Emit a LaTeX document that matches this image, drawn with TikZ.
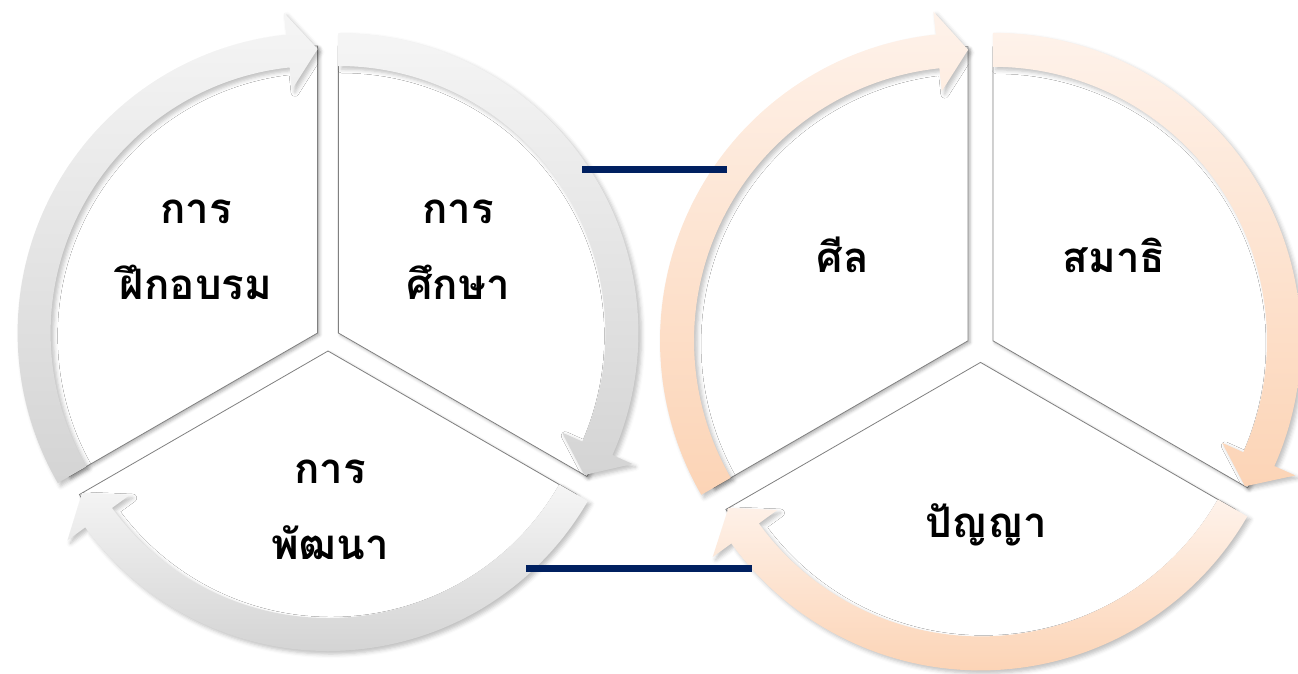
\documentclass[tikz,border=0pt]{standalone}
\usepackage{fontspec}
\newfontfamily\thaifont[Script=Thai]{Loma}
\usetikzlibrary{calc}
\usetikzlibrary{shadows.blur}
\definecolor{navyline}{RGB}{0,32,96}
\definecolor{greytop}{RGB}{245,245,245}
\definecolor{greybot}{RGB}{212,212,212}
\definecolor{peachtop}{RGB}{254,242,234}
\definecolor{peachbot}{RGB}{252,212,182}
\colorlet{edgegrey}{black!50}

% one arrow of a ring: centre, (tail angle, tip angle), style
\def\ringarrow (#1) (#2,#3) [#4]{%
    \path [#4] ($(#1)+(#2:\outr)$)
        arc [start angle=#2, end angle=#3+\headang, radius=\outr]
        -- ($(#1)+({#3+\headang}:\headout)$)
        -- ($(#1)+(#3:\midr)$)
        -- ($(#1)+({#3+\headang}:\headin)$)
        -- ($(#1)+({#3+\headang}:\innr)$)
        arc [start angle=#3+\headang, end angle=#2, radius=\innr]
        -- cycle}

% one third of a disc: apex, start angle, style
\def\pieslice (#1) (#2) [#3]{%
    \path [#3] (#1) -- ++(#2:\sectr)
        arc [start angle=#2, end angle=#2-120, radius=\sectr] -- cycle}

\begin{document}
\begin{tikzpicture}[
    x=1pt, y=1pt,
    every node/.style={font=\thaifont\bfseries\fontsize{42}{76}\selectfont, align=center},
    sector/.style={fill=white, draw=edgegrey, line width=0.8pt,
        blur shadow={shadow xshift=2pt, shadow yshift=-2pt,
            shadow blur radius=3pt, shadow opacity=30}},
    arrowshadow/.style={blur shadow={shadow xshift=3pt, shadow yshift=-3pt,
            shadow blur radius=4pt, shadow opacity=25}},
    greyarrow/.style={arrowshadow, top color=greytop, bottom color=greybot},
    peacharrow/.style={arrowshadow, top color=peachtop, bottom color=peachbot},
    bar/.style={draw=navyline, line width=7pt}
]

\useasboundingbox (0,0) rectangle (1298,-673);

% left cycle
\def\outr{300}
\def\innr{267}
\def\midr{284}
\def\headin{245}
\def\headout{322}
\def\headang{6}
\def\sectr{287}

\coordinate (lc) at (328,-339);
\coordinate (la) at ($(lc)+(150:12)$);
\coordinate (lb) at ($(lc)+(30:12)$);
\coordinate (ld) at ($(lc)+(270:12)$);

\pieslice (la) (210) [sector];
\pieslice (lb) (90) [sector];
\pieslice (ld) (-30) [sector];

\ringarrow (la) (210,90) [greyarrow];
\ringarrow (lb) (90,-30) [greyarrow];
\ringarrow (ld) (-30,-150) [greyarrow];

\node (train)   at (196,-250) {การ\\ฝึกอบรม};
\node (study)   at (458,-250) {การ\\ศึกษา};
\node (develop) at (330,-510) {การ\\พัฒนา};

% right cycle
\def\outr{308}
\def\innr{274}
\def\midr{291}
\def\headin{251}
\def\headout{331}
\def\headang{6}
\def\sectr{294}

\coordinate (rc) at (980.5,-348);
\coordinate (ra) at ($(rc)+(150:14.4)$);
\coordinate (rb) at ($(rc)+(30:14.4)$);
\coordinate (rd) at ($(rc)+(270:14.4)$);

\pieslice (ra) (210) [sector];
\pieslice (rb) (90) [sector];
\pieslice (rd) (-30) [sector];

\ringarrow (ra) (210,90) [peacharrow];
\ringarrow (rb) (90,-30) [peacharrow];
\ringarrow (rd) (-30,-150) [peacharrow];

\node (sila)    at (843,-255)  {ศีล};
\node (samadhi) at (1114,-255) {สมาธิ};
\node (panya)   at (986,-525)  {ปัญญา};

% links between the cycles
\coordinate (topl) at (582,-169);
\coordinate (topr) at (727,-169);
\coordinate (botl) at (526,-568);
\coordinate (botr) at (752,-568);

\draw [bar] (topl) -- (topr);
\draw [bar] (botl) -- (botr);

\end{tikzpicture}
\end{document}
